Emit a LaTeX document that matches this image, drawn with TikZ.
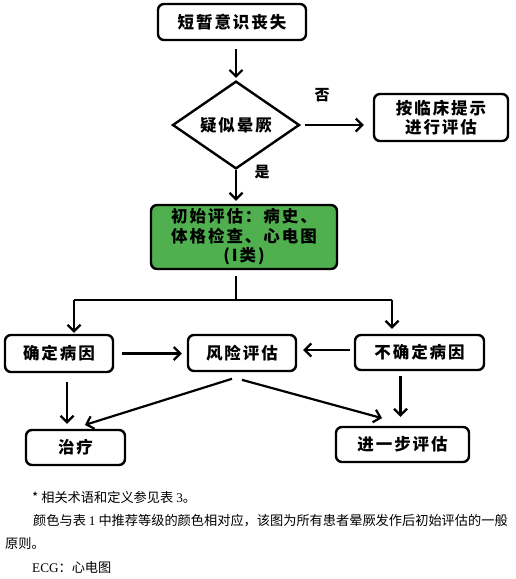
\documentclass[tikz,border=0pt]{standalone}
\usepackage{fontspec}
\usetikzlibrary{shapes.geometric,arrows.meta}
\newfontfamily\cjk{Noto Sans CJK SC}
\newfontfamily\cjksp{Noto Sans CJK SC}[LetterSpace=12]
\newfontfamily\lat{Liberation Serif}
\definecolor{boxgreen}{RGB}{80,176,80}
\begin{document}
\begin{tikzpicture}[x=1pt,y=-1pt,
  box/.style={draw=black,line width=2.4pt,rounded corners=6pt,inner sep=0pt,align=center,
    font=\cjksp\bfseries\fontsize{16.5}{19.5}\selectfont},
  line/.style={line width=2.2pt},
  arr/.style={line width=2.2pt,-{Straight Barb[length=6.5pt,width=13pt,line width=2.2pt]}},
  lbl/.style={font=\cjk\bfseries\fontsize{15}{18}\selectfont,inner sep=0pt},
  note/.style={font=\cjk\fontsize{13.2}{16}\selectfont,inner sep=0pt,anchor=west}]
\useasboundingbox (0,0) rectangle (515,579);
% nodes
\node[box,minimum width=148pt,minimum height=36pt] (n1) at (232,22) {短暂意识丧失};
\node[draw=black,line width=2.4pt,diamond,inner sep=0pt,minimum width=127pt,minimum height=75pt,
  font=\cjksp\bfseries\fontsize{16.5}{19.5}\selectfont] (d) at (236,125) {疑似晕厥};
\node[box,minimum width=134pt,minimum height=47pt] (r) at (441,117.5) {按临床提示\\进行评估};
\node[box,fill=boxgreen,minimum width=186pt,minimum height=64pt] (g) at (244,237)
  {初始评估：病史、\\体格检查、心电图\\(I类)};
\node[box,minimum width=108pt,minimum height=37pt] (a) at (59,353.5) {确定病因};
\node[box,minimum width=108pt,minimum height=36pt] (b) at (242,353) {风险评估};
\node[box,minimum width=129pt,minimum height=35pt] (c) at (419.5,352.5) {不确定病因};
\node[box,minimum width=99pt,minimum height=35pt] (t) at (75.5,447.5) {治疗};
\node[box,minimum width=133pt,minimum height=35pt] (f) at (402.5,444.5) {进一步评估};
% labels
\node[lbl] (no) at (322,95) {否};
\node[lbl] (yes) at (262,172) {是};
% connectors
\draw[arr,shorten <=8pt,shorten >=2pt] (d.north |- n1.south) -- (d.north);
\draw[arr,shorten <=4pt,shorten >=9pt] (d.east) -- (d.east -| r.west);
\draw[arr,shorten >=3pt] (d.south) -- (d.south |- g.north);
\coordinate (m) at (236,300);
\coordinate (sl) at (74,300);
\coordinate (sr) at (392,300);
\draw[line,shorten <=6pt] (m |- g.south) -- (m);
\draw[line] (sl) -- (sr);
\draw[arr,shorten >=1pt] (sl) -- (sl |- a.north);
\draw[arr,shorten >=5pt] (sr) -- (sr |- c.north);
\draw[arr,shorten <=8pt,shorten >=5pt] (a.east) -- (a.east -| b.west);
\draw[arr,shorten <=4pt,shorten >=6pt] ([yshift=2.5pt]c.west) -- ([yshift=2.5pt]c.west -| b.east);
\draw[arr,shorten <=9pt,shorten >=5pt] ([xshift=8pt]a.south) -- ([xshift=8pt]a.south |- t.north);
\draw[arr,shorten <=22pt,shorten >=13pt] ([xshift=11pt]b.south) -- ([xshift=-3pt]t.north);
\draw[arr,shorten <=29pt,shorten >=29pt] ([xshift=-28pt]b.south) -- ([xshift=7.5pt]f.north);
\draw[arr,shorten <=5pt,shorten >=9pt] ([xshift=-19pt]c.south) -- ([xshift=-19pt]c.south |- f.north);
% notes
\node[note] (n_a) at (32,497) {* 相关术语和定义参见表 {\lat 3}。};
\node[note] (n_b) at (33,521) {颜色与表 {\lat 1} 中推荐等级的颜色相对应，该图为所有患者晕厥发作后初始评估的一般};
\node[note] (n_c) at (5,544) {原则。};
\node[note] (n_d) at (32,567) {{\lat ECG}：心电图};
\end{tikzpicture}
\end{document}
